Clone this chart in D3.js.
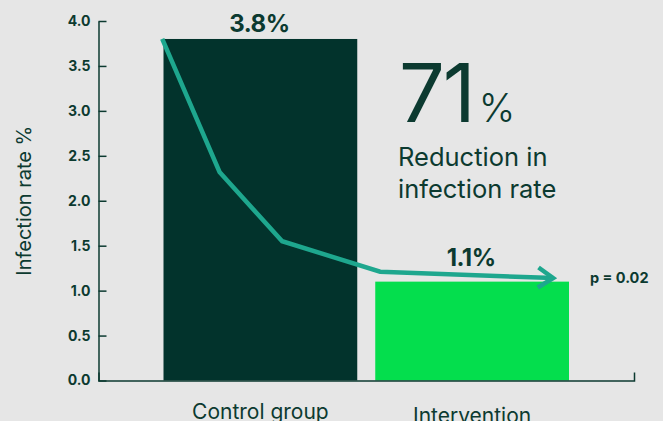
<!DOCTYPE html>
<html>
<head>
<meta charset="utf-8">
<script src="https://cdn.jsdelivr.net/npm/d3@7/dist/d3.min.js"></script>
<style>
  html, body { margin: 0; padding: 0; background: #e6e6e6; }
  svg { display: block; font-family: Inter, "Noto Sans", sans-serif; }
</style>
</head>
<body>
<svg id="chart" width="663" height="421"></svg>
<script>
// ---- data ----
const categories = ["Control group", "Intervention"];
const rates = [3.8, 1.1];
const rateLabels = ["3.8%", "1.1%"];
const yTicks = [0, 0.5, 1.0, 1.5, 2.0, 2.5, 3.0, 3.5, 4.0];
// trend arrow: position along the x axis (0..1) and value
const trendPos = [0.119, 0.226, 0.343, 0.526, 0.849];
const trendVal = [3.8, 2.32, 1.55, 1.21, 1.14];
const bigNumber = "71";
const bigUnit = "%";
const bigCaption = ["Reduction in", "infection rate"];
const pValue = "p = 0.02";

// ---- styles ----
const dark = "#0c3a30";
const barColors = ["#02332c", "#04de4d"];
const teal = "#1ea78e";
const valueLabelOffset = [7, 16];
const catLabelOffset = [38, 42];

const svg = d3.select("#chart");
const plotL = 98.5, plotR = 634, plotT = 21, plotB = 380.5;

const x = d3.scaleBand().domain(categories).range([plotL, plotR])
  .paddingInner(0.085).paddingOuter(0.307);
const xPos = d3.scaleLinear().domain([0, 1]).range([plotL, plotR]);
const y = d3.scaleLinear().domain([0, 4]).range([plotB, plotT]);

// bars
svg.append("g").selectAll("rect").data(categories).join("rect")
  .attr("x", d => x(d))
  .attr("y", (d, i) => y(rates[i]))
  .attr("width", x.bandwidth())
  .attr("height", (d, i) => y(0) - y(rates[i]))
  .attr("fill", (d, i) => barColors[i]);

// y axis
const yAxis = svg.append("g").attr("transform", `translate(${plotL},0)`)
  .call(d3.axisLeft(y).tickValues(yTicks).tickFormat(d3.format(".1f"))
    .tickSize(-8).tickSizeOuter(0).tickPadding(8));
yAxis.select(".domain").attr("stroke", dark).attr("stroke-width", 1.5);
yAxis.selectAll(".tick line").attr("stroke", dark).attr("stroke-width", 1.5);
yAxis.selectAll(".tick text").attr("fill", dark)
  .style("font-size", "14px").style("font-weight", 700).style("font-family", "Inter");

// x axis
const xAxis = svg.append("g").attr("transform", `translate(0,${plotB})`)
  .call(d3.axisBottom(x).tickValues([]).tickSizeOuter(-8));
xAxis.select(".domain").attr("stroke", dark).attr("stroke-width", 1.5);

// category labels
svg.append("g").selectAll("text").data(categories).join("text")
  .attr("x", d => x(d) + x.bandwidth() / 2)
  .attr("y", (d, i) => y(0) + catLabelOffset[i])
  .attr("text-anchor", "middle")
  .attr("fill", dark)
  .style("font-size", "21px")
  .text(d => d);

// y axis title
svg.append("text")
  .attr("transform", `translate(30.5,${(plotT + plotB) / 2}) rotate(-90)`)
  .attr("text-anchor", "middle")
  .attr("fill", dark)
  .style("font-size", "20px")
  .text("Infection rate %");

// value labels
svg.append("g").selectAll("text").data(categories).join("text")
  .attr("x", d => x(d) + x.bandwidth() / 2 - 1)
  .attr("y", (d, i) => y(rates[i]) - valueLabelOffset[i])
  .attr("text-anchor", "middle")
  .attr("fill", dark)
  .style("font-size", "24px").style("font-weight", 700)
  .style("letter-spacing", "-0.5px")
  .text((d, i) => rateLabels[i]);

// trend arrow
svg.append("defs").append("marker")
  .attr("id", "arrow")
  .attr("markerUnits", "userSpaceOnUse")
  .attr("viewBox", "-20 -14 24 28")
  .attr("refX", 0).attr("refY", 0)
  .attr("markerWidth", 24).attr("markerHeight", 28)
  .attr("orient", "auto")
  .append("path")
  .attr("d", "M-15,-10 L0,0 L-15,10")
  .attr("fill", "none").attr("stroke", teal).attr("stroke-width", 4.5)
  .attr("stroke-linejoin", "miter");

const trendPts = trendPos.map((p, i) => [xPos(p), y(trendVal[i])]);
svg.append("path")
  .attr("d", d3.line()(trendPts))
  .attr("fill", "none")
  .attr("stroke", teal)
  .attr("stroke-width", 4.5)
  .attr("stroke-linejoin", "miter")
  .attr("marker-end", "url(#arrow)");

// p value
svg.append("text")
  .attr("x", 590).attr("y", 283)
  .attr("fill", dark)
  .style("font-size", "14.5px").style("font-weight", 700)
  .text(pValue);

// big annotation
const big = svg.append("text").attr("x", 399).attr("y", 122).attr("fill", dark);
big.append("tspan").style("font-size", "81px").style("letter-spacing", "-2px").text(bigNumber);
big.append("tspan").attr("dx", 5).style("font-size", "39px").style("font-weight", 300).text(bigUnit);

svg.append("g").selectAll("text").data(bigCaption).join("text")
  .attr("x", 398)
  .attr("y", (d, i) => 166 + i * 32)
  .attr("fill", dark)
  .style("font-size", "25.5px")
  .text(d => d);
</script>
</body>
</html>
